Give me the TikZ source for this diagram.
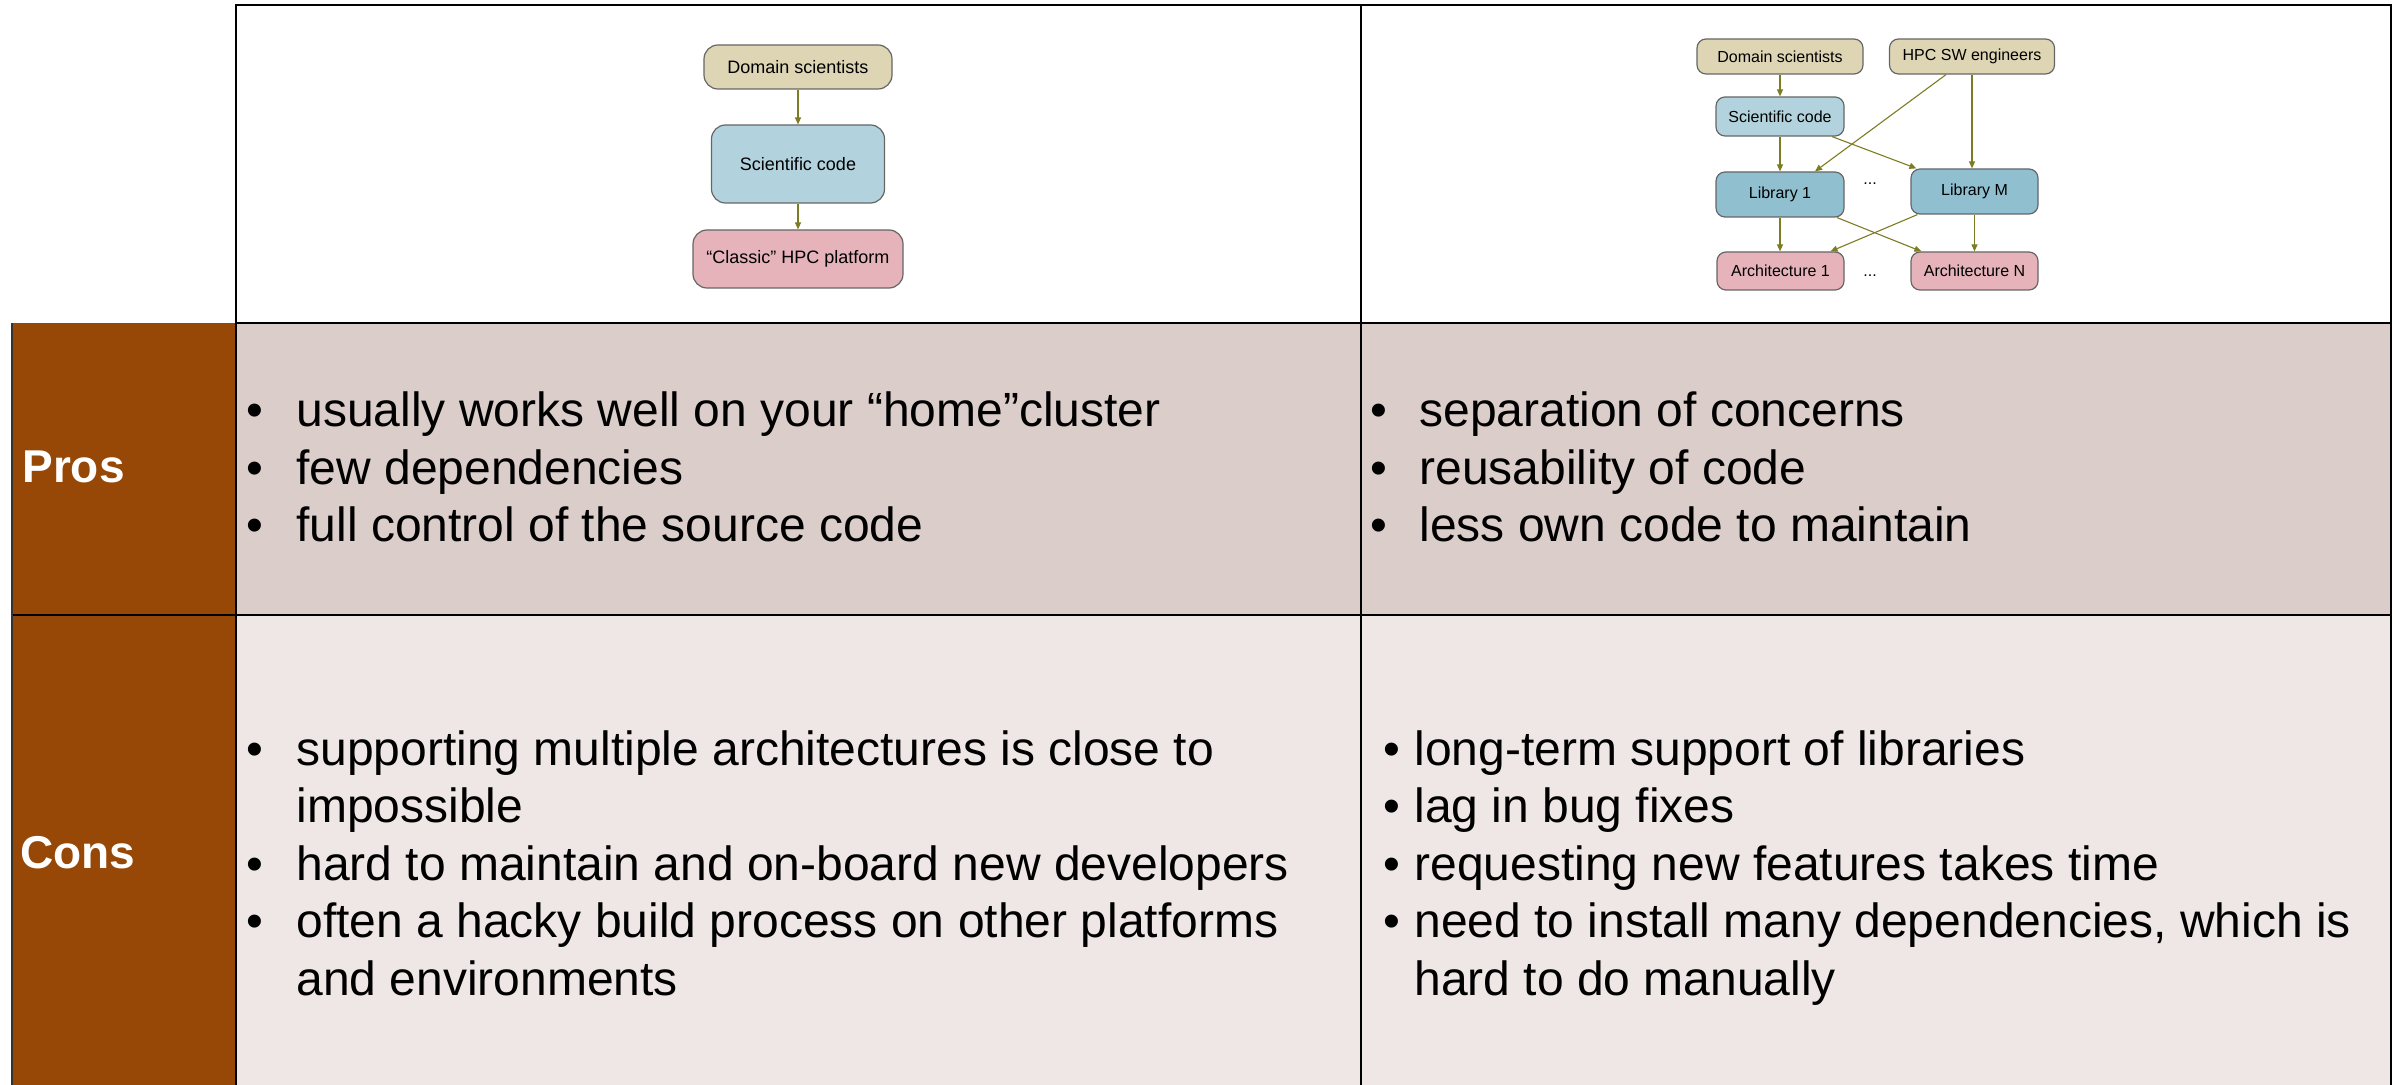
\documentclass[tikz,border=0pt]{standalone}
\usepackage{fontspec}
\setmainfont{Liberation Sans}
\usetikzlibrary{arrows.meta,calc}

\definecolor{headbrown}{HTML}{974806}
\definecolor{prosfill}{HTML}{DBCDC9}
\definecolor{consfill}{HTML}{EFE7E5}
\definecolor{beigebox}{HTML}{DDD5B4}
\definecolor{bluebox}{HTML}{B2D3DD}
\definecolor{libbox}{HTML}{90BFCF}
\definecolor{pinkbox}{HTML}{E5B3B9}
\definecolor{olivearrow}{HTML}{7C7C22}
\definecolor{boxline}{HTML}{666666}

% bullet set in a box of fixed width, so that the item text starts at a fixed offset
\newcommand{\bul}[1]{\makebox[#1][l]{•}}

\begin{document}
\begin{tikzpicture}[x=0.5pt,y=-0.5pt,
  box/.style={draw=boxline, line width=0.6pt, inner sep=0pt, align=center},
  bigbox/.style={box, rounded corners=7pt, font=\fontsize{9}{11}\selectfont},
  smallbox/.style={box, rounded corners=4.5pt, font=\fontsize{8}{10}\selectfont},
  arrowline/.style={draw=olivearrow, line width=0.55pt, -{Triangle[length=3.5pt,width=3pt]}},
  tableline/.style={line width=1.4pt, black},
  cell/.style={anchor=base west, inner sep=0pt, font=\fontsize{24}{28.75}\selectfont},
  rowhead/.style={anchor=base west, inner sep=0pt, text=white, font=\fontsize{23}{28}\selectfont\bfseries}
]
\useasboundingbox (0,0) rectangle (2403,1085);

% ---- table background ----
\fill[headbrown] (12,323) rectangle (236,1085);
\fill[prosfill] (236,323) rectangle (2391,615);
\fill[consfill] (236,615) rectangle (2391,1085);

% ---- table rules ----
\draw[tableline] (236,1085) -- (236,5) -- (2391,5) -- (2391,1085);
\draw[tableline] (1361,5) -- (1361,1085);
\draw[tableline] (236,323) -- (2391,323);
\draw[tableline] (12,615) -- (2391,615);
\draw[line width=0.8pt, black!80] (12,323) -- (12,1085);

% ---- classic approach ----
\node[bigbox, fill=beigebox, minimum width=94pt, minimum height=22pt] (ds1) at (798,67) {Domain scientists};
\node[bigbox, fill=bluebox, minimum width=86.5pt, minimum height=39pt] (sc1) at (798,164) {Scientific code};
\node[bigbox, fill=pinkbox, minimum width=105pt, minimum height=29pt] (hpc1) at (798,259) {“Classic” HPC platform};
\draw[arrowline] (ds1) -- (sc1);
\draw[arrowline] (sc1) -- (hpc1);

% ---- library-based approach ----
\node[smallbox, fill=beigebox, minimum width=83pt, minimum height=17.5pt] (ds2) at (1780,56.5) {Domain scientists};
\node[smallbox, fill=beigebox, minimum width=82.5pt, minimum height=17.5pt] (hpc2) at (1972,56.5) {HPC SW engineers};
\node[smallbox, fill=bluebox, minimum width=64pt, minimum height=19.5pt] (sc2) at (1780,116.5) {Scientific code};
\node[smallbox, fill=libbox, minimum width=64pt, minimum height=22.5pt] (lib1) at (1780,194.5) {Library 1};
\node[smallbox, fill=libbox, minimum width=63.5pt, minimum height=22.5pt] (libM) at (1974.5,191.5) {Library M};
\node[smallbox, fill=pinkbox, minimum width=63.5pt, minimum height=19pt] (arch1) at (1780.5,271) {Architecture 1};
\node[smallbox, fill=pinkbox, minimum width=63.5pt, minimum height=19pt] (archN) at (1974.5,271) {Architecture N};
\node[font=\fontsize{8}{10}\selectfont, inner sep=0pt] (dots1) at (1870,184) {...};
\node[font=\fontsize{8}{10}\selectfont, inner sep=0pt] (dots2) at (1870,276) {...};

\draw[arrowline] (ds2) -- (sc2);
\draw[arrowline] (sc2) -- (lib1);
\draw[arrowline] ($(sc2.south)+(52,0)$) -- ($(libM.north west)+(6,0)$);
\draw[arrowline] ($(hpc2.south)+(-26,0)$) -- ($(lib1.north)+(35,0)$);
\draw[arrowline] (hpc2.south) -- (hpc2.south |- libM.north);
\draw[arrowline] (lib1.south) -- (lib1.south |- arch1.north);
\draw[arrowline] ($(lib1.south)+(57,0)$) -- ($(archN.north west)+(11,0)$);
\draw[arrowline] ($(libM.south west)+(7,0)$) -- ($(arch1.north)+(50,0)$);
\draw[arrowline] (libM.south) -- (libM.south |- archN.north);

% ---- row headers ----
\node[rowhead] (pros) at (22,482) {Pros};
\node[rowhead] (cons) at (20,868) {Cons};

% ---- pros ----
\node[cell] (prosleft) at (246,427) {\begin{tabular}[t]{@{}l@{}l@{}}
\bul{25pt}&usually works well on your “home”cluster\\
\bul{25pt}&few dependencies\\
\bul{25pt}&full control of the source code
\end{tabular}};
\node[cell] (prosright) at (1370,427) {\begin{tabular}[t]{@{}l@{}l@{}}
\bul{24.5pt}&separation of concerns\\
\bul{24.5pt}&reusability of code\\
\bul{24.5pt}&less own code to maintain
\end{tabular}};

% ---- cons ----
\node[cell] (consleft) at (246,765) {\begin{tabular}[t]{@{}l@{}l@{}}
\bul{25pt}&supporting multiple architectures is close to\\
&impossible\\
\bul{25pt}&hard to maintain and on-board new developers\\
\bul{25pt}&often a hacky build process on other platforms\\
&and environments
\end{tabular}};
\node[cell] (consright) at (1383,765) {\begin{tabular}[t]{@{}l@{}l@{}}
\bul{15.5pt}&long-term support of libraries\\
\bul{15.5pt}&lag in bug fixes\\
\bul{15.5pt}&requesting new features takes time\\
\bul{15.5pt}&need to install many dependencies, which is\\
&hard to do manually
\end{tabular}};
\end{tikzpicture}
\end{document}
